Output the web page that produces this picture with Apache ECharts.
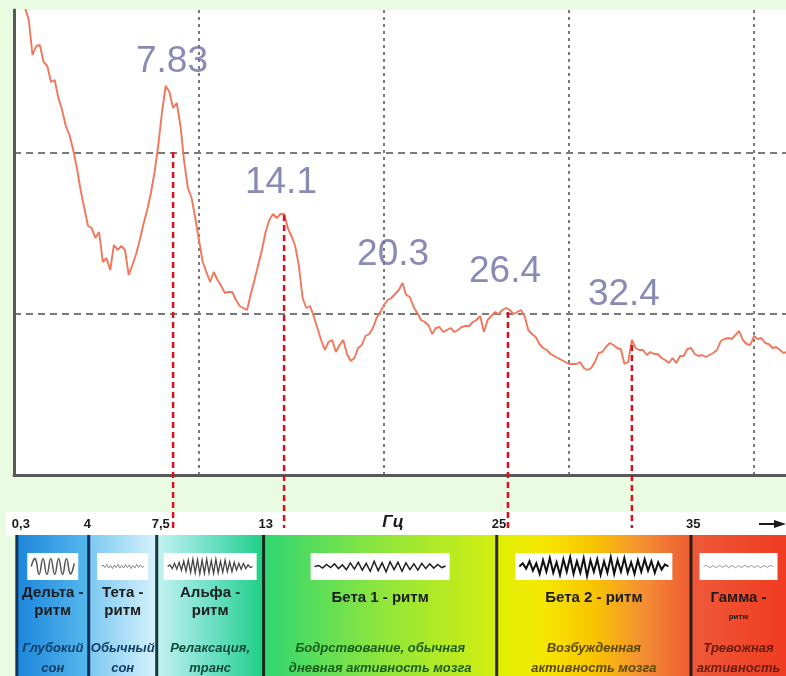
<!DOCTYPE html>
<html><head><meta charset="utf-8">
<script src="https://cdn.jsdelivr.net/npm/echarts@6/dist/echarts.min.js"></script>
<style>html,body{margin:0;padding:0;background:#e9fbe1}#c{width:786px;height:676px}</style>
</head><body><div id="c"></div>
<script>
// ---- spectrum (frequency Hz, relative power) ----
const spectrum = [[0.4,49],[0.6,46.7],[0.8,45.5],[1.0,42.0],[1.2,42.9],[1.4,43.0],[1.6,41.3],[1.8,40.9],[2.0,39.3],[2.2,39.5],[2.4,37.7],[2.6,36.5],[2.8,34.9],[3.0,34.0],[3.2,32.5],[3.4,30.7],[3.6,28.5],[3.8,26.7],[4.0,24.9],[4.2,24.7],[4.4,23.7],[4.6,24.3],[4.8,21.3],[5.0,21.7],[5.2,20.5],[5.4,23.0],[5.6,22.5],[5.8,22.9],[6.0,22.5],[6.2,20.0],[6.4,21.0],[6.6,22.1],[6.8,23.5],[7.0,25.1],[7.2,26.5],[7.4,28.2],[7.6,30.3],[7.8,33.0],[8.0,36.3],[8.2,38.9],[8.4,38.3],[8.6,36.7],[8.8,37.2],[9.0,34.9],[9.2,31.3],[9.4,28.7],[9.6,27.7],[9.8,25.7],[10.0,23.5],[10.2,21.3],[10.4,20.3],[10.6,19.3],[10.8,20.3],[11.0,19.5],[11.2,18.9],[11.4,18.2],[11.6,18.3],[11.8,18.3],[12.0,17.5],[12.2,16.9],[12.4,16.7],[12.6,16.5],[12.8,18.1],[13.0,19.5],[13.2,21.0],[13.4,22.5],[13.6,24.3],[13.8,25.5],[14.0,26.1],[14.2,25.7],[14.4,26.1],[14.6,26.1],[14.8,24.7],[15.0,23.9],[15.2,22.9],[15.4,20.9],[15.6,17.7],[15.8,16.7],[16.0,16.9],[16.2,15.9],[16.4,14.7],[16.6,13.5],[16.8,12.5],[17.0,13.3],[17.2,13.5],[17.4,12.3],[17.6,13.0],[17.8,13.5],[18.0,12.1],[18.2,11.4],[18.4,11.7],[18.6,12.7],[18.8,13.0],[19.0,13.9],[19.2,14.1],[19.4,14.7],[19.6,15.7],[19.8,16.3],[20.0,17.0],[20.2,17.5],[20.4,17.7],[20.6,18.1],[20.8,18.5],[21.0,19.2],[21.2,18.0],[21.4,17.8],[21.6,16.8],[21.8,16.2],[22.0,15.5],[22.2,15.3],[22.4,15.0],[22.6,14.1],[22.8,14.7],[23.0,14.8],[23.2,14.3],[23.4,14.5],[23.6,14.7],[23.8,14.3],[24.0,14.5],[24.2,14.8],[24.4,14.9],[24.6,14.9],[24.8,15.3],[25.0,15.5],[25.2,15.9],[25.4,14.3],[25.6,15.5],[25.8,15.9],[26.0,16.3],[26.2,16.1],[26.4,16.5],[26.6,16.7],[26.8,16.5],[27.0,16.1],[27.2,16.3],[27.4,16.5],[27.6,15.9],[27.8,14.5],[28.0,14.1],[28.2,13.8],[28.4,13.1],[28.6,12.7],[28.8,12.5],[29.0,12.1],[29.2,11.9],[29.4,11.7],[29.6,11.5],[29.8,11.3],[30.0,11.1],[30.2,11.1],[30.4,11.1],[30.6,11.3],[30.8,10.7],[31.0,10.5],[31.2,10.7],[31.4,11.3],[31.6,12.2],[31.8,12.3],[32.0,12.8],[32.2,13.2],[32.4,13.0],[32.6,12.7],[32.8,12.6],[33.0,11.1],[33.2,11.3],[33.4,13.5],[33.6,12.7],[33.8,12.5],[34.0,12.5],[34.2,12.0],[34.4,12.3],[34.6,12.1],[34.8,12.1],[35.0,11.7],[35.2,11.5],[35.4,11.2],[35.6,11.7],[35.8,11.2],[36.0,11.9],[36.2,11.9],[36.4,12.6],[36.6,12.7],[36.8,12.1],[37.0,11.9],[37.2,12.0],[37.4,11.8],[37.6,12.0],[37.8,12.2],[38.0,12.5],[38.2,13.4],[38.4,13.6],[38.6,13.7],[38.8,13.6],[39.0,14.0],[39.2,14.4],[39.4,13.5],[39.6,13.1],[39.8,13.0],[40.0,13.9],[40.2,13.6],[40.4,13.7],[40.6,13.2],[40.8,13.1],[41.0,12.7],[41.2,12.8],[41.4,12.5],[41.6,12.2],[41.8,12.3]];

// ---- peak annotations ----
const peakLabels = ['7.83', '14.1', '20.3', '26.4', '32.4'];
const peakLabelHz = [8.54, 14.43, 20.49, 26.54, 32.97];
const peakLabelLevel = [41.3, 29.2, 22.0, 20.3, 18.0];
const markerHz = [8.6, 14.6, 26.7, 33.4];
const markerTop = [32.3, 26.0, 16.3, 13.0];
const markerBottom = -5.3;

// ---- rhythm bands ----
const bandEdges = [0.3, 4, 7.5, 13, 25, 35, 40];
const bandTicks = ['0,3', '4', '7,5', '13', '25', '35'];
const bandNames = ['Дельта -\nритм', 'Тета -\nритм', 'Альфа -\nритм', 'Бета 1 - ритм', 'Бета 2 - ритм', '{a|Гамма -}\n{b|ритм}'];
const bandDescriptions = ['Глубокий\nсон', 'Обычный\nсон', 'Релаксация,\nтранс', 'Бодрствование, обычная\nдневная активность мозга', 'Возбужденная\nактивность мозга', 'Тревожная\nактивность'];
const axisUnit = 'Гц';

// ---- icon wave shapes (normalized) ----
const waves = [
  [0, 0.75, -0.75, 0.75, -0.75, 0.75, -0.75, 0.75, -0.75, 0.75, -0.7, 0.3],
  [0, 0.15, -0.1, 0.2, -0.15, 0.1, -0.2, 0.15, -0.1, 0.2, -0.15, 0.1, -0.15, 0.2, -0.1, 0.15, -0.2, 0.1, -0.15, 0.2, -0.1, 0.15, -0.1, 0.05],
  [0, 0.15, -0.2, 0.3, -0.25, 0.4, -0.35, 0.5, -0.45, 0.6, -0.55, 0.7, -0.6, 0.65, -0.7, 0.6, -0.65, 0.7, -0.6, 0.55, -0.65, 0.7, -0.6, 0.5, -0.55, 0.6, -0.5, 0.45, -0.5, 0.4, -0.35, 0.3, -0.25, 0.3, -0.2, 0.15, -0.1, 0],
  [0, 0.1, -0.15, 0.2, -0.1, 0.25, -0.2, 0.15, -0.3, 0.35, -0.25, 0.4, -0.35, 0.3, -0.45, 0.5, -0.4, 0.35, -0.5, 0.45, -0.3, 0.4, -0.45, 0.35, -0.3, 0.25, -0.35, 0.3, -0.2, 0.25, -0.15, 0.2, -0.1, 0.05],
  [0, 0.3, -0.2, 0.5, -0.4, 0.3, -0.7, 0.6, -0.5, 0.8, -0.6, 0.4, -0.8, 0.7, -0.5, 0.9, -0.7, 0.5, -0.6, 0.8, -0.9, 0.6, -0.5, 0.7, -0.8, 0.5, -0.6, 0.9, -0.7, 0.6, -0.5, 0.8, -0.6, 0.4, -0.7, 0.6, -0.5, 0.7, -0.4, 0.5, -0.6, 0.4, -0.3, 0.2, 0],
  [0, 0.1, -0.1, 0.08, -0.12, 0.1, -0.08, 0.12, -0.1, 0.1, -0.12, 0.08, -0.1, 0.12, -0.08, 0.1, -0.1, 0.08, -0.12, 0.1, -0.08, 0.1, 0]
];

// ---- styles ----
const bandGradients = [
  ['#1c86da', '#56b8ee'],
  ['#7cc8f2', '#d6f2fb'],
  ['#c4f2f2', '#6fe0c6', '#1ecf88'],
  ['#2fd673', '#8ee63c', '#d4ee10'],
  ['#def000', '#f6e600', '#f8c400', '#f49034', '#ee5a32'],
  ['#ee5a3a', '#f03a20']
];
const boundaryColors = ['#12305a', '#12305a', '#143a40', '#1a2a1a', '#2a2a1a', '#2a1a1a'];
const descColors = ['#0f3d66', '#0f3d66', '#0f4a3a', '#1b5e20', '#5a4808', '#6d1a0e'];
const waveColors = ['#555', '#888', '#444', '#222', '#111', '#999'];
const waveWidths = [1.5, 1, 1.3, 1.5, 2, 1];
const boxWidths = [51, 51, 93, 139, 157, 78];
const FONT = '"Liberation Sans", Arial, sans-serif';

function gradient(cols) {
  return { type: 'linear', x: 0, y: 0, x2: 1, y2: 0,
    colorStops: cols.map((c, k) => ({ offset: k / (cols.length - 1), color: c })) };
}

function renderBand(params, api) {
  const i = api.value(2);
  const x0 = api.coord([api.value(0), 0])[0];
  const x1 = api.coord([api.value(1), 0])[0];
  const cs = params.coordSys;
  const top = cs.y, h = cs.height;
  const cx = (x0 + Math.min(x1, cs.x + cs.width)) / 2;
  const bw = boxWidths[i], bh = 27;
  const bx = cx - bw / 2, by = top + 18;
  const w = waves[i];
  const pts = w.map((v, k) => [bx + 4 + k * (bw - 8) / (w.length - 1), by + bh / 2 - v * (bh / 2 - 3)]);
  const twoLine = bandNames[i].indexOf('\n') >= 0;
  const rich = bandNames[i].indexOf('{a|') >= 0;
  return {
    type: 'group',
    children: [
      { type: 'rect', shape: { x: x0, y: top, width: x1 - x0, height: h }, style: { fill: gradient(bandGradients[i]) } },
      { type: 'line', shape: { x1: x0, y1: top, x2: x0, y2: top + h }, style: { stroke: boundaryColors[i], lineWidth: 3 } },
      { type: 'rect', shape: { x: bx, y: by, width: bw, height: bh }, style: { fill: '#ffffff' } },
      { type: 'polyline', shape: { points: pts, smooth: i === 0 ? 0.5 : 0 }, style: { stroke: waveColors[i], lineWidth: waveWidths[i], fill: null } },
      { type: 'text', style: {
          text: bandNames[i], x: cx, y: top + (rich ? 72 : (twoLine ? 67 : 63)), align: 'center', verticalAlign: 'middle',
          font: 'bold 15px ' + FONT, fill: '#1c1c1c', lineHeight: 18,
          rich: { a: { font: 'bold 15px ' + FONT, fill: '#1c1c1c', lineHeight: 20 }, b: { font: 'bold 8px ' + FONT, fill: '#1c1c1c', lineHeight: 18 } } } },
      { type: 'text', style: {
          text: bandDescriptions[i], x: cx, y: top + 123, align: 'center', verticalAlign: 'middle',
          font: 'italic bold 13px ' + FONT, fill: descColors[i], lineHeight: 20 } },
      { type: 'text', style: {
          text: bandTicks[i], x: x0 - 5, y: top - 11, align: 'left', verticalAlign: 'middle',
          font: 'bold 13px ' + FONT, fill: '#1a1a1a' } }
    ]
  };
}

const markerData = [];
markerHz.forEach((hz, k) => { markerData.push([hz, markerTop[k]], [hz, markerBottom], '-'); });

const chart = echarts.init(document.getElementById('c'), null, { renderer: 'canvas' });
chart.setOption({
  animation: false,
  backgroundColor: '#e9fbe1',
  graphic: [
    { type: 'rect', z: 0, shape: { x: 6, y: 512, width: 780, height: 24 }, style: { fill: '#ffffff' } },
    { type: 'text', z: 5, style: { text: axisUnit, x: 393, y: 522, align: 'center', verticalAlign: 'middle', font: 'italic bold 17px ' + FONT, fill: '#1a1a1a' } },
    { type: 'line', z: 5, shape: { x1: 759, y1: 524, x2: 778, y2: 524 }, style: { stroke: '#1a1a1a', lineWidth: 2 } },
    { type: 'polygon', z: 5, shape: { points: [[774, 520], [786, 524], [774, 528]] }, style: { fill: '#1a1a1a' } }
  ],
  grid: [
    { left: 14, right: 0, top: 10, height: 465, show: true, backgroundColor: '#ffffff', borderWidth: 0 },
    { left: 0, right: 0, top: 535, bottom: 0 }
  ],
  xAxis: [
    { type: 'value', gridIndex: 0, min: 0, max: 41.73, interval: 10,
      axisLine: { show: true, onZero: false, lineStyle: { color: '#595959', width: 3 } },
      axisTick: { show: false }, axisLabel: { show: false },
      splitLine: { show: true, showMinLine: false, showMaxLine: false, lineStyle: { color: '#7a7a7a', width: 2, type: [3, 4] } } },
    { type: 'value', gridIndex: 1, min: -0.566, max: 39.89, show: false }
  ],
  yAxis: [
    { type: 'value', gridIndex: 0, min: 0, max: 46.5, interval: 16.1,
      axisLine: { show: true, lineStyle: { color: '#595959', width: 3 } },
      axisTick: { show: false }, axisLabel: { show: false },
      splitLine: { show: true, showMinLine: false, showMaxLine: false, lineStyle: { color: '#7a7a7a', width: 2, type: [7, 5] } } },
    { type: 'value', gridIndex: 1, min: 0, max: 1, show: false }
  ],
  series: [
    { type: 'custom', xAxisIndex: 1, yAxisIndex: 1, renderItem: renderBand, clip: false, z: 1,
      data: bandNames.map((_, i) => [bandEdges[i], bandEdges[i + 1], i]) },
    { type: 'line', xAxisIndex: 0, yAxisIndex: 0, data: spectrum, showSymbol: false, symbol: 'none', clip: true, z: 3,
      lineStyle: { color: '#f2765a', width: 1.9 } },
    { type: 'line', xAxisIndex: 0, yAxisIndex: 0, data: markerData, symbol: 'none', clip: false, connectNulls: false, z: 4,
      lineStyle: { color: '#d8101c', width: 2.5, type: [6, 4] } },
    { type: 'scatter', xAxisIndex: 0, yAxisIndex: 0, symbolSize: 1, z: 5,
      itemStyle: { color: 'rgba(0,0,0,0)' },
      data: peakLabels.map((t, k) => ({ name: t, value: [peakLabelHz[k], peakLabelLevel[k]] })),
      label: { show: true, position: 'inside', formatter: p => p.name, fontFamily: FONT, fontSize: 37, color: '#6c6ea4' } }
  ]
});
</script></body></html>
